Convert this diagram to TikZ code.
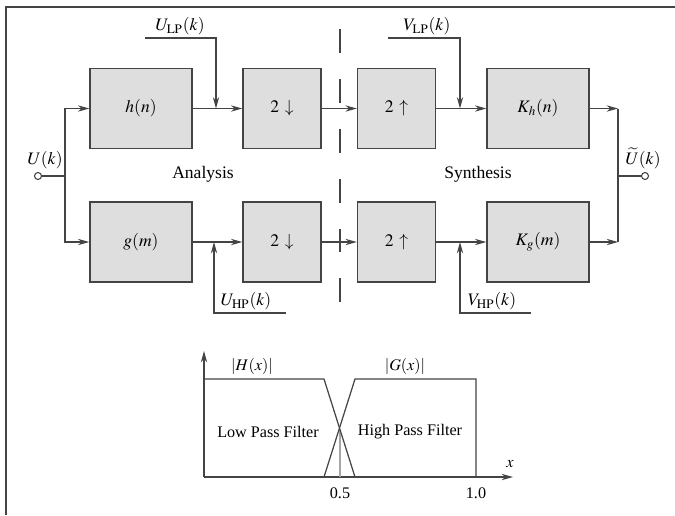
\documentclass[tikz,border=0pt]{standalone}
\usepackage{mathptmx}
\usepackage{fontspec}
\setmainfont{Liberation Serif}
\usepackage{xcolor}
\usetikzlibrary{arrows.meta, positioning}

\definecolor{boxfill}{RGB}{222,222,222}
\definecolor{linegray}{RGB}{68,68,68}

\begin{document}
\begin{tikzpicture}[x=0.02cm, y=-0.02cm, >=Stealth,
    font=\fontsize{10}{12}\selectfont,
    block/.style={draw=linegray, fill=boxfill, line width=0.8pt, minimum width=2.04cm, minimum height=1.6cm, inner sep=0pt},
    rate/.style={block, minimum width=1.56cm},
    sig/.style={draw=linegray, line width=0.7pt},
    arr/.style={sig, -{Stealth[length=6.5pt, width=3.6pt]}},
    port/.style={circle, draw=linegray, fill=white, line width=0.6pt, inner sep=0pt, minimum size=4pt}]
    \useasboundingbox (0,0) rectangle (675,515);

    % Frame
    \draw[linegray, line width=1.1pt] (6,515) -- (6,7) -- (675,7);

    % Blocks
    \node[block] (h)  at (141,108.5)   {$h(n)$};
    \node[rate]  (dl) at (282,108.5)   {$2\,\downarrow$};
    \node[rate]  (ul) at (396.5,108.5) {$2\,\uparrow$};
    \node[block] (kh) at (538,108.5)   {$K_h(n)$};
    \node[block] (g)  at (141,242)     {$g(m)$};
    \node[rate]  (dh) at (282,242)     {$2\,\downarrow$};
    \node[rate]  (uh) at (396.5,242)   {$2\,\uparrow$};
    \node[block] (kg) at (538,242)     {$K_g(m)$};

    % Input and output
    \node[port] (uin)  at (38,176)  {};
    \node[port] (uout) at (645,176) {};
    \coordinate (bin)  at (65,176);
    \coordinate (bout) at (618,176);
    \coordinate (ktop) at (kh.east -| bout);
    \coordinate (kbot) at (kg.east -| bout);
    \node (ulab) at (45,160) {$U(k)$};
    \node[inner sep=0pt] (olab) at (643,158) {$\widetilde{U}(k)$};

    \draw[sig] (uin) -- (bin);
    \draw[arr] (bin) |- (h);
    \draw[arr] (bin) |- (g);
    \draw[arr] (h) -- (dl);
    \draw[arr] (dl) -- (ul);
    \draw[arr] (ul) -- (kh);
    \draw[arr] (g) -- (dh);
    \draw[arr] (dh) -- (uh);
    \draw[arr] (uh) -- (kg);
    \draw[arr] (kh) -- (ktop);
    \draw[arr] (kg) -- (kbot);
    \draw[sig] (ktop) -- (kbot);
    \draw[sig] (bout) -- (uout);

    % Injected signals
    \coordinate (ulpS) at (145,38);
    \coordinate (ulpC) at (216,38);
    \coordinate (uhpS) at (286,313);
    \coordinate (uhpC) at (214,313);
    \coordinate (vlpS) at (388,38);
    \coordinate (vlpC) at (460,38);
    \coordinate (vhpS) at (531,313);
    \coordinate (vhpC) at (460,313);
    \draw[arr] (ulpS) -- (ulpC) -- (ulpC |- h.east);
    \draw[arr] (uhpS) -- (uhpC) -- (uhpC |- g.east);
    \draw[arr] (vlpS) -- (vlpC) -- (vlpC |- kh.west);
    \draw[arr] (vhpS) -- (vhpC) -- (vhpC |- kg.west);
    \node (ulp) at (180,26)  {$U_{\mathrm{LP}}(k)$};
    \node (uhp) at (246,301) {$U_{\mathrm{HP}}(k)$};
    \node (vlp) at (427,26)  {$V_{\mathrm{LP}}(k)$};
    \node (vhp) at (492,301) {$V_{\mathrm{HP}}(k)$};

    % Divider
    \draw[linegray, line width=0.8pt, dash pattern=on 13.6pt off 14.8pt] (340,29) -- (340,306);
    \node (ana) at (203,174) {Analysis};
    \node (syn) at (478,174) {Synthesis};

    % Filter characteristic
    \coordinate (o) at (204,477);
    \draw[arr] (o) -- (513,477);
    \draw[arr] (o) -- (204,351);
    \draw[black!35, line width=0.6pt] (340,429.6) -- (340,477);
    \draw[sig] (204,379) -- (324,379) -- (355,477);
    \draw[sig] (324,477) -- (355,379) -- (476,379) -- (476,477);
    \begin{scope}[font=\fontsize{9.2}{11}\selectfont]
    \node (hx) at (252,366) {$|H(x)|$};
    \node (gx) at (405,366) {$|G(x)|$};
    \node (lpf) at (268,432) {Low Pass Filter};
    \node (hpf) at (410,432) {High Pass Filter};
    \node (t05) at (340,493) {0.5};
    \node (t10) at (476,493) {1.0};
    \node (xl)  at (510,464) {$x$};
    \end{scope}
\end{tikzpicture}
\end{document}
